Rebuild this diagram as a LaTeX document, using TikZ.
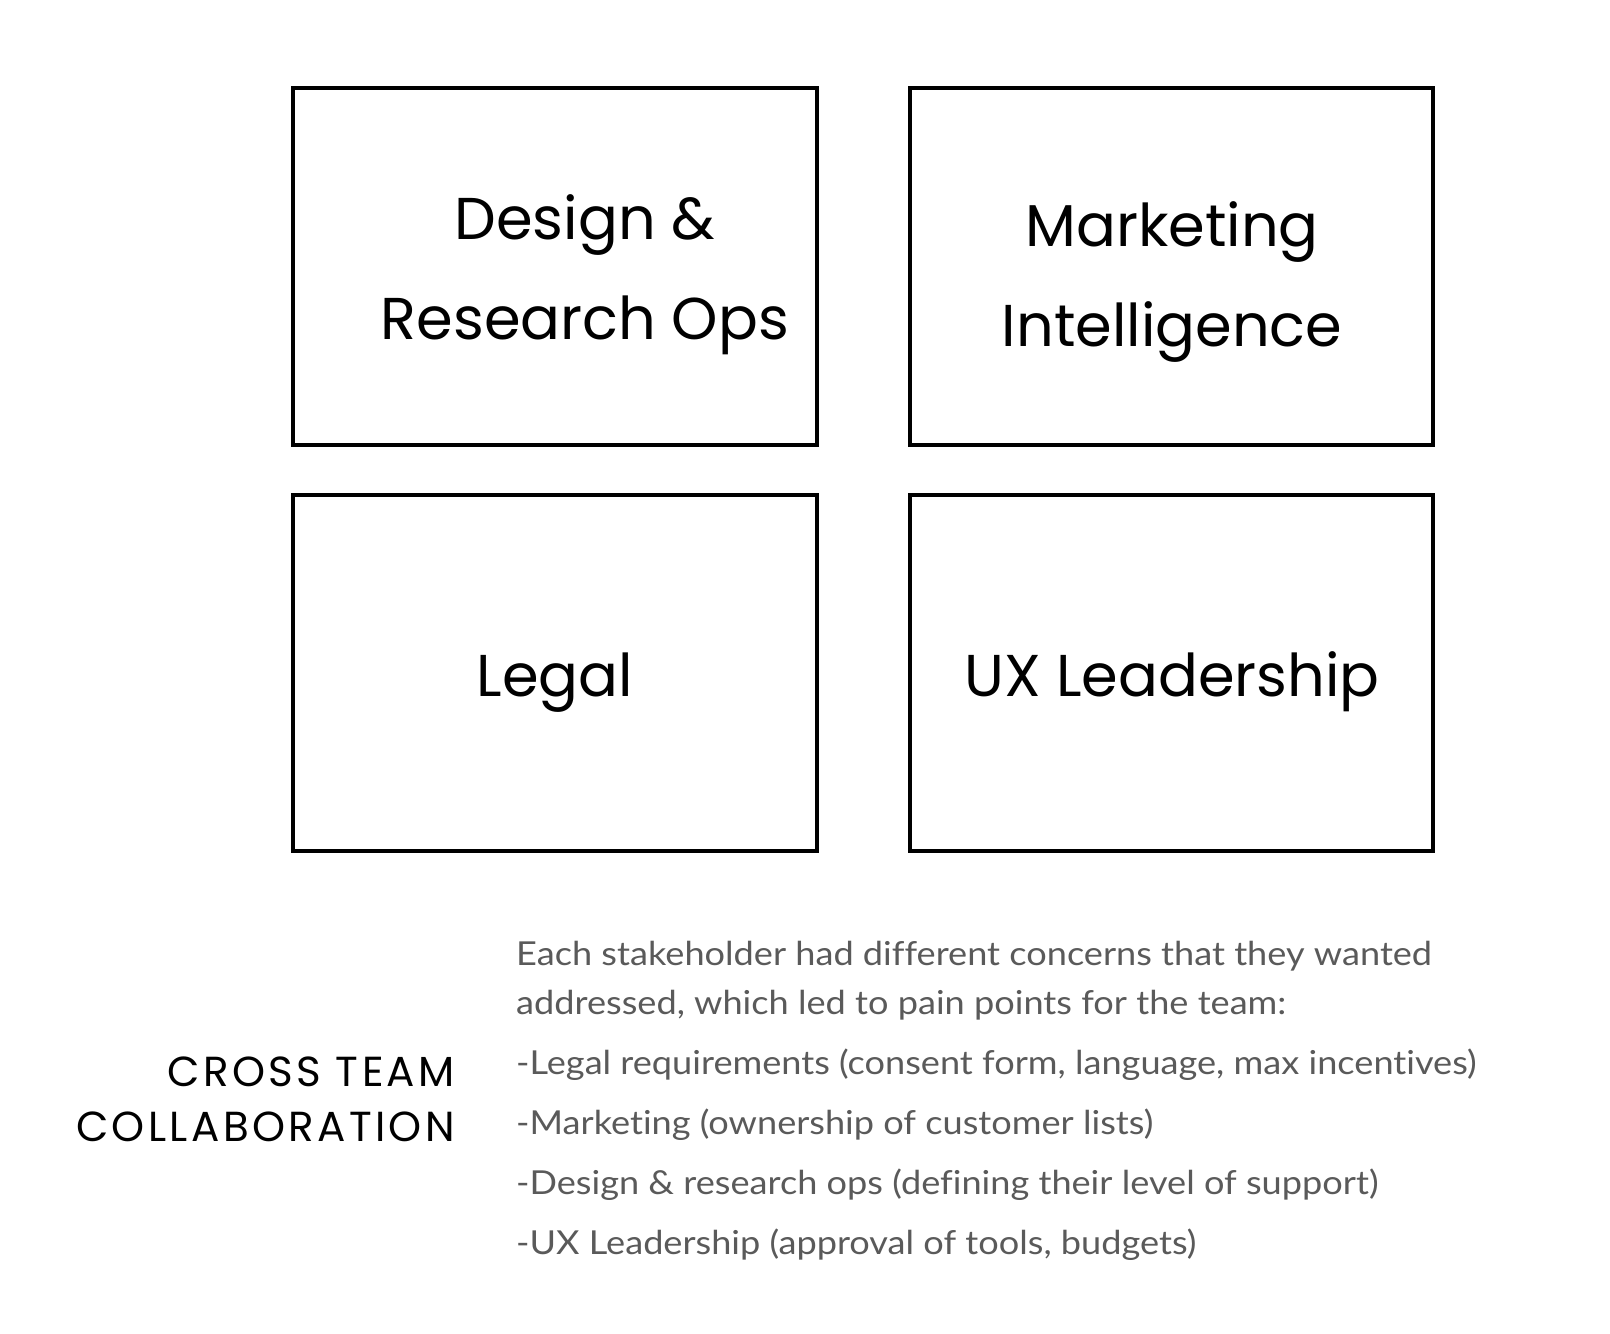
\documentclass[tikz,border=0pt]{standalone}
\usepackage{fontspec}
\newfontfamily\boxfont{Poppins}
\newfontfamily\capsfont[LetterSpace=8]{Poppins}
\newfontfamily\bodyfont[FakeStretch=1.095,Ligatures={NoCommon,NoRare}]{Lato}
\definecolor{bodygray}{HTML}{5A5A5A}
\begin{document}
\begin{tikzpicture}[x=1pt,y=-1pt,
  card/.style={draw=black,line width=3.3pt,fill=none},
  boxtext/.style={anchor=base,inner sep=0pt,font=\boxfont\fontsize{59}{70}\selectfont},
  captext/.style={anchor=base east,inner sep=0pt,font=\capsfont\fontsize{42}{50}\selectfont},
  bodytext/.style={anchor=base west,inner sep=0pt,text=bodygray,font=\bodyfont\fontsize{33}{40}\selectfont}]
\useasboundingbox[fill=white] (0,0) rectangle (1610,1334);
\draw[card] (293,88) rectangle (817,445);
\draw[card] (910,88) rectangle (1433,445);
\draw[card] (293,495) rectangle (817,851);
\draw[card] (910,495) rectangle (1433,851);
\node[boxtext] (d1) at (585,239) {Design \&};
\node[boxtext] (d2) at (585,339) {Research Ops};
\node[boxtext] (m1) at (1172,246) {Marketing};
\node[boxtext] (m2) at (1172,346) {Intelligence};
\node[boxtext] (lg) at (555,696) {Legal};
\node[boxtext] (ux) at (1172,696) {UX Leadership};
\node[captext] (c1) at (455,1086) {CROSS TEAM};
\node[captext] (c2) at (455,1141) {COLLABORATION};
\node[bodytext] (b1) at (516,965) {Each stakeholder had different concerns that they wanted};
\node[bodytext] (b2) at (516,1014) {addressed, which led to pain points for the team:};
\node[bodytext] (b3) at (516,1074) {-Legal requirements (consent form, language, max incentives)};
\node[bodytext] (b4) at (516,1134) {-Marketing (ownership of customer lists)};
\node[bodytext] (b5) at (516,1194) {-Design \& research ops (defining their level of support)};
\node[bodytext] (b6) at (516,1254) {-UX Leadership (approval of tools, budgets)};
\end{tikzpicture}
\end{document}
